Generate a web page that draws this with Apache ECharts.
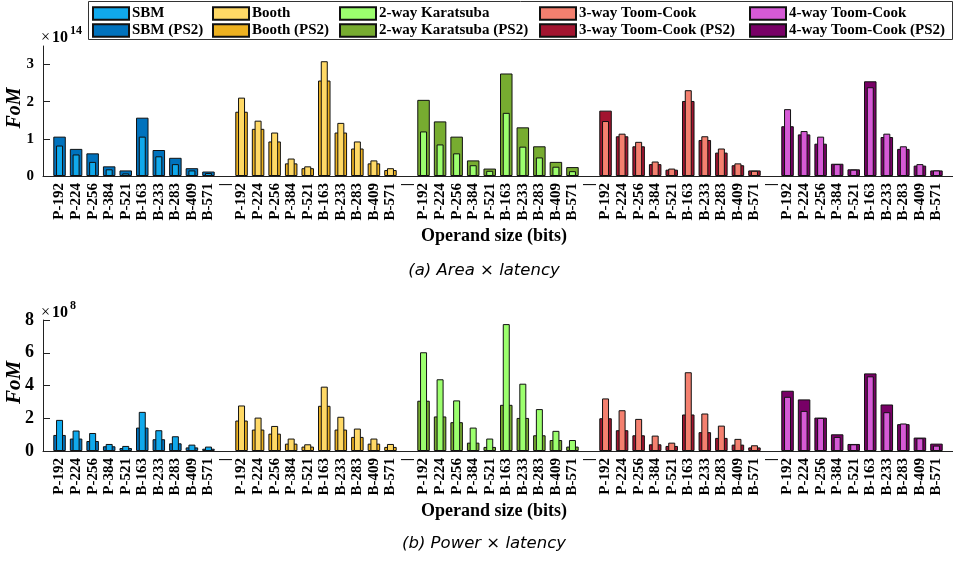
<!DOCTYPE html>
<html>
<head>
<meta charset="utf-8">
<script src="https://cdn.jsdelivr.net/npm/echarts@6/dist/echarts.min.js"></script>
<style>
  html, body { margin: 0; padding: 0; background: #fff; }
  #chart { width: 953px; height: 562px; }
</style>
</head>
<body>
<div id="chart"></div>
<script>
// Operand sizes per multiplier family, and the families themselves
const operands = ['P-192', 'P-224', 'P-256', 'P-384', 'P-521', 'B-163', 'B-233', 'B-283', 'B-409', 'B-571'];
const methods = ['SBM', 'Booth', '2-way Karatsuba', '3-way Toom-Cook', '4-way Toom-Cook'];
const separatorLabel = '|';

// Colours: plain design (light) and PS2 design (dark)
const lightColors = ['#10A9EC', '#FFD966', '#9CFF6E', '#F4806F', '#D65AD6'];
const darkColors  = ['#0072BD', '#EDB120', '#77AC30', '#A2142F', '#780066'];

// Area × latency, in units of 10^14
const areaSBM        = [0.82, 0.58, 0.38, 0.18, 0.07, 1.06, 0.53, 0.32, 0.15, 0.08];
const areaSBM_PS2    = [1.06, 0.73, 0.61, 0.26, 0.15, 1.57, 0.70, 0.49, 0.21, 0.12];
const areaBooth      = [2.11, 1.49, 1.17, 0.47, 0.26, 3.09, 1.43, 0.93, 0.42, 0.21];
const areaBooth_PS2  = [1.73, 1.27, 0.93, 0.34, 0.21, 2.57, 1.17, 0.74, 0.34, 0.16];
const areaKara       = [1.20, 0.85, 0.61, 0.29, 0.14, 1.70, 0.79, 0.50, 0.25, 0.13];
const areaKara_PS2   = [2.05, 1.47, 1.06, 0.42, 0.20, 2.76, 1.31, 0.80, 0.38, 0.24];
const areaTC3        = [1.48, 1.14, 0.92, 0.39, 0.20, 2.31, 1.07, 0.74, 0.34, 0.14];
const areaTC3_PS2    = [1.76, 1.07, 0.80, 0.32, 0.17, 2.02, 0.97, 0.63, 0.29, 0.15];
const areaTC4        = [1.80, 1.21, 1.06, 0.32, 0.17, 2.39, 1.14, 0.80, 0.32, 0.15];
const areaTC4_PS2    = [1.34, 1.12, 0.87, 0.33, 0.18, 2.55, 1.05, 0.73, 0.28, 0.15];

// Power × latency, in units of 10^8
const powerSBM       = [1.90, 1.25, 1.10, 0.43, 0.31, 2.39, 1.27, 0.90, 0.39, 0.27];
const powerSBM_PS2   = [0.98, 0.76, 0.61, 0.29, 0.18, 1.43, 0.72, 0.47, 0.22, 0.14];
const powerBooth     = [2.78, 2.04, 1.53, 0.76, 0.41, 3.93, 2.09, 1.37, 0.76, 0.43];
const powerBooth_PS2 = [1.86, 1.31, 1.06, 0.45, 0.27, 2.76, 1.31, 0.86, 0.45, 0.25];
const powerKara      = [6.03, 4.38, 3.09, 1.43, 0.76, 7.75, 4.11, 2.56, 1.23, 0.67];
const powerKara_PS2  = [3.07, 2.11, 1.76, 0.51, 0.25, 2.82, 2.02, 0.96, 0.67, 0.27];
const powerTC3       = [3.21, 2.49, 1.96, 0.94, 0.51, 4.81, 2.29, 1.55, 0.74, 0.35];
const powerTC3_PS2   = [2.00, 1.27, 0.96, 0.41, 0.31, 2.23, 1.15, 0.80, 0.39, 0.22];
const powerTC4       = [3.31, 2.45, 2.02, 0.86, 0.41, 4.56, 2.37, 1.68, 0.78, 0.33];
const powerTC4_PS2   = [3.68, 3.15, 2.04, 1.02, 0.43, 4.74, 2.84, 1.64, 0.82, 0.45];

// Y-axis ticks
const areaTicks  = [0, 1, 2, 3];
const powerTicks = [0, 2, 4, 6, 8];

const panels = [
  { plain: [areaSBM, areaBooth, areaKara, areaTC3, areaTC4],
    ps2:   [areaSBM_PS2, areaBooth_PS2, areaKara_PS2, areaTC3_PS2, areaTC4_PS2],
    max: 3.5, ticks: areaTicks, exponent: '14', caption: '(a) Area × latency',
    top: 46, height: 130, tickFont: 15, nameFont: 20 },
  { plain: [powerSBM, powerBooth, powerKara, powerTC3, powerTC4],
    ps2:   [powerSBM_PS2, powerBooth_PS2, powerKara_PS2, powerTC3_PS2, powerTC4_PS2],
    max: 8, ticks: powerTicks, exponent: '8', caption: '(b) Power × latency',
    top: 320, height: 131, tickFont: 18, nameFont: 21 }
];

// Category slots: one empty pad at each end, a separator between families
const categories = [''];
const familyStart = [];
methods.forEach((m, i) => {
  familyStart.push(categories.length);
  categories.push(...operands);
  if (i < methods.length - 1) categories.push(separatorLabel);
});
categories.push('');

function placeFamily(values, i) {
  const row = categories.map(() => null);
  values.forEach((v, k) => { row[familyStart[i] + k] = v; });
  return row;
}

const serif = '"Liberation Serif"';
const grids = [], xAxes = [], yAxes = [], series = [], graphics = [];

panels.forEach((p, pi) => {
  grids.push({ left: 43, width: 911, top: p.top, height: p.height, containLabel: false });
  const baseX = {
    type: 'category', gridIndex: pi, data: categories, boundaryGap: false,
    axisLine: { lineStyle: { color: '#222', width: 1 } },
    axisTick: { show: false }, splitLine: { show: false }
  };
  xAxes.push(Object.assign({}, baseX, {
    axisLabel: {
      interval: 0, rotate: 90, margin: 7, color: '#000',
      fontFamily: 'Liberation Serif', fontWeight: 'bold', fontSize: 15
    }
  }));
  xAxes.push(Object.assign({}, baseX, { axisLabel: { show: false }, axisLine: { show: false } }));
  yAxes.push({
    type: 'value', gridIndex: pi, min: 0, max: p.max,
    axisLine: { show: true, lineStyle: { color: '#222', width: 1 } },
    axisTick: { show: true, inside: true, length: 7, customValues: p.ticks, lineStyle: { color: '#222' } },
    axisLabel: { customValues: p.ticks, margin: 9, color: '#000', fontFamily: 'Liberation Serif', fontWeight: 'bold', fontSize: p.tickFont },
    splitLine: { show: false }
  });

  methods.forEach((m, i) => {
    series.push({
      type: 'bar', name: m + ' (PS2)', xAxisIndex: pi * 2, yAxisIndex: pi,
      data: placeFamily(p.ps2[i], i), barWidth: 12.5, barGap: '-100%', z: 2,
      itemStyle: { color: darkColors[i], borderColor: '#111', borderWidth: 1 },
      emphasis: { disabled: true }
    });
    series.push({
      type: 'bar', name: m, xAxisIndex: pi * 2 + 1, yAxisIndex: pi,
      data: placeFamily(p.plain[i], i), barWidth: 7, barGap: '-100%', z: 3,
      itemStyle: { color: lightColors[i], borderColor: '#111', borderWidth: 1 },
      emphasis: { disabled: true }
    });
  });

  const bottom = p.top + p.height;
  // Axis exponent and name
  graphics.push({ type: 'text', x: 41, y: p.top - (pi ? 7 : 8),
    style: { text: '×', font: `16px ${serif}`, fill: '#000', verticalAlign: 'middle' } });
  graphics.push({ type: 'text', x: 52, y: p.top - (pi ? 7 : 8),
    style: { text: '10', font: `bold 16px ${serif}`, fill: '#000', verticalAlign: 'middle' } });
  graphics.push({ type: 'text', x: 70, y: p.top - (pi ? 14 : 15),
    style: { text: p.exponent, font: `bold 12px ${serif}`, fill: '#000', verticalAlign: 'middle' } });
  graphics.push({ type: 'text', x: 15, y: p.top + p.height / 2 - 3, rotation: Math.PI / 2,
    style: { text: 'FoM', font: `italic bold ${p.nameFont}px ${serif}`, fill: '#000',
      align: 'center', verticalAlign: 'middle' } });
  graphics.push({ type: 'text', x: 494, y: bottom + 60,
    style: { text: 'Operand size (bits)', font: `bold 18px ${serif}`, fill: '#000',
      align: 'center', verticalAlign: 'middle' } });
  graphics.push({ type: 'text', x: 484, y: bottom + (pi ? 93 : 95),
    style: { text: p.caption, font: 'oblique 16.5px "DejaVu Sans"', fill: '#000',
      align: 'center', verticalAlign: 'middle' } });
});

// Legend frame
graphics.push({ type: 'rect', z: 0, shape: { x: 88.5, y: 1.5, width: 864, height: 38 },
  style: { fill: '#fff', stroke: '#333', lineWidth: 1 } });

const legendLeft = [92, 212, 339, 539, 749];
const legends = methods.map((m, i) => ({
  orient: 'vertical', left: legendLeft[i], top: 6, z: 10, padding: 0,
  itemWidth: 36, itemHeight: 12.5, itemGap: 2, icon: 'rect',
  selectedMode: false,
  data: [m, m + ' (PS2)'],
  textStyle: { fontFamily: 'Liberation Serif', fontWeight: 'bold', fontSize: 15, color: '#000', padding: [0, 0, 0, -2] }
}));

const chart = echarts.init(document.getElementById('chart'), null, { renderer: 'canvas' });
chart.setOption({
  animation: false,
  backgroundColor: '#fff',
  grid: grids, xAxis: xAxes, yAxis: yAxes,
  legend: legends,
  graphic: graphics,
  series: series
});
</script>
</body>
</html>
